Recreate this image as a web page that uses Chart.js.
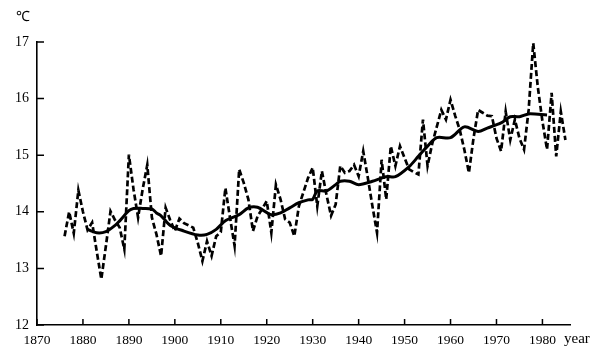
<!DOCTYPE html>
<html>
<head>
<meta charset="utf-8">
<script src="https://cdn.jsdelivr.net/npm/chart.js@4/dist/chart.umd.min.js"></script>
<style>
  body { margin: 0; background: #fff; }
</style>
</head>
<body>
<canvas id="myChart" width="609" height="361"></canvas>
<script>
const ctx = document.getElementById('myChart');

// annual mean temperature (dashed)
const years = [];
for (let y = 1876; y <= 1985; y++) years.push(y);
const annual = [
  13.57, 14.00, 13.62, 14.38, 14.00, 13.68, 13.81, 13.30, 12.81, 13.40, // 1876-1885
  14.01, 13.85, 13.72, 13.34, 15.01, 14.40, 13.90, 14.40, 14.83, 13.90, // 1886-1895
  13.60, 13.22, 14.07, 13.85, 13.66, 13.88, 13.80, 13.76, 13.72, 13.45, // 1896-1905
  13.13, 13.48, 13.22, 13.57, 13.64, 14.42, 13.90, 13.40, 14.75, 14.51, // 1906-1915
  14.22, 13.66, 13.92, 14.05, 14.19, 13.63, 14.48, 14.22, 13.87, 13.81, // 1916-1925
  13.57, 14.10, 14.35, 14.60, 14.78, 14.10, 14.72, 14.30, 13.93, 14.13, // 1926-1935
  14.81, 14.69, 14.72, 14.83, 14.63, 15.07, 14.60, 14.10, 13.63, 14.92, // 1936-1945
  14.22, 15.16, 14.81, 15.16, 14.95, 14.75, 14.70, 14.66, 15.63, 14.81, // 1946-1955
  15.20, 15.50, 15.80, 15.63, 15.98, 15.70, 15.45, 15.10, 14.69, 15.30, // 1956-1965
  15.80, 15.75, 15.70, 15.69, 15.30, 15.07, 15.77, 15.27, 15.63, 15.30, // 1966-1975
  15.10, 15.80, 16.98, 16.20, 15.60, 15.10, 16.10, 14.98, 15.77, 15.27  // 1976-1985
];

// smoothed curve (solid)
const smoothYears = [1881, 1883, 1885, 1887, 1888, 1890, 1891, 1893, 1895, 1896,
  1897, 1899, 1902, 1905, 1907, 1909, 1911, 1914, 1916, 1918,
  1921, 1923, 1925, 1927, 1929, 1930, 1931, 1933, 1935, 1936,
  1938, 1940, 1943, 1946, 1948, 1951, 1953, 1955, 1957, 1960,
  1963, 1966, 1968, 1971, 1973, 1975, 1977, 1981];
const smoothValues = [13.69, 13.63, 13.65, 13.76, 13.84, 14.02, 14.06, 14.06, 14.05, 13.98,
  13.93, 13.76, 13.66, 13.59, 13.60, 13.69, 13.84, 13.95, 14.07, 14.08,
  13.95, 13.98, 14.07, 14.16, 14.21, 14.22, 14.37, 14.37, 14.48, 14.54,
  14.54, 14.48, 14.54, 14.62, 14.62, 14.80, 14.98, 15.16, 15.31, 15.31,
  15.50, 15.42, 15.48, 15.57, 15.68, 15.68, 15.73, 15.71];

const yTicks = [12, 13, 14, 15, 16, 17];
const xTicks = [1870, 1880, 1890, 1900, 1910, 1920, 1930, 1940, 1950, 1960, 1970, 1980];

const font = 'Liberation Serif';

// inward ticks + extra labels
const decor = {
  id: 'decor',
  afterDraw(chart) {
    const c = chart.ctx;
    const xs = chart.scales.x, ys = chart.scales.y;
    const area = chart.chartArea;
    c.save();
    c.strokeStyle = '#000';
    c.lineWidth = 1.5;
    c.beginPath();
    xTicks.forEach(v => {
      const px = xs.getPixelForValue(v);
      c.moveTo(px, area.bottom);
      c.lineTo(px, area.bottom - 6);
    });
    yTicks.forEach(v => {
      const py = ys.getPixelForValue(v);
      c.moveTo(area.left, py);
      c.lineTo(area.left + 7, py);
    });
    c.stroke();
    c.fillStyle = '#000';
    c.textBaseline = 'middle';
    c.textAlign = 'left';
    c.font = '15px ' + font;
    c.fillText('year', area.right - 6, area.bottom + 14);
    c.font = '14px ' + font;
    c.fillText('℃', 16, 17);
    c.restore();
  }
};

new Chart(ctx, {
  type: 'line',
  data: {
    datasets: [{
      data: years.map((y, i) => ({ x: y, y: annual[i] })),
      borderColor: '#000',
      borderWidth: 2.7,
      borderDash: [6, 3],
      pointRadius: 0,
      tension: 0,
    }, {
      data: smoothYears.map((y, i) => ({ x: y, y: smoothValues[i] })),
      borderColor: '#000',
      borderWidth: 3,
      pointRadius: 0,
      tension: 0.3,
    }]
  },
  options: {
    responsive: false,
    devicePixelRatio: 1,
    animation: false,
    layout: {
      padding: { left: 0, top: 42, right: 39, bottom: 0 }
    },
    scales: {
      x: {
        type: 'linear',
        min: 1870,
        max: 1986,
        afterBuildTicks: s => { s.ticks = xTicks.map(v => ({ value: v })); },
        afterFit: s => { s.height = 36; },
        grid: { display: false, drawTicks: false },
        border: { display: true, color: '#000', width: 1.6 },
        ticks: {
          padding: 7,
          color: '#000',
          font: { family: font, size: 13.5 },
          callback: v => String(v),
          maxRotation: 0,
          autoSkip: false,
        }
      },
      y: {
        min: 12,
        max: 17,
        afterBuildTicks: s => { s.ticks = yTicks.map(v => ({ value: v })); },
        afterFit: s => { s.width = 37; },
        grid: { display: false, drawTicks: false },
        border: { display: true, color: '#000', width: 1.6 },
        ticks: {
          padding: 8,
          color: '#000',
          font: { family: font, size: 14 },
        }
      }
    },
    plugins: {
      legend: { display: false },
      tooltip: { enabled: false }
    }
  },
  plugins: [decor]
});
</script>
</body>
</html>
